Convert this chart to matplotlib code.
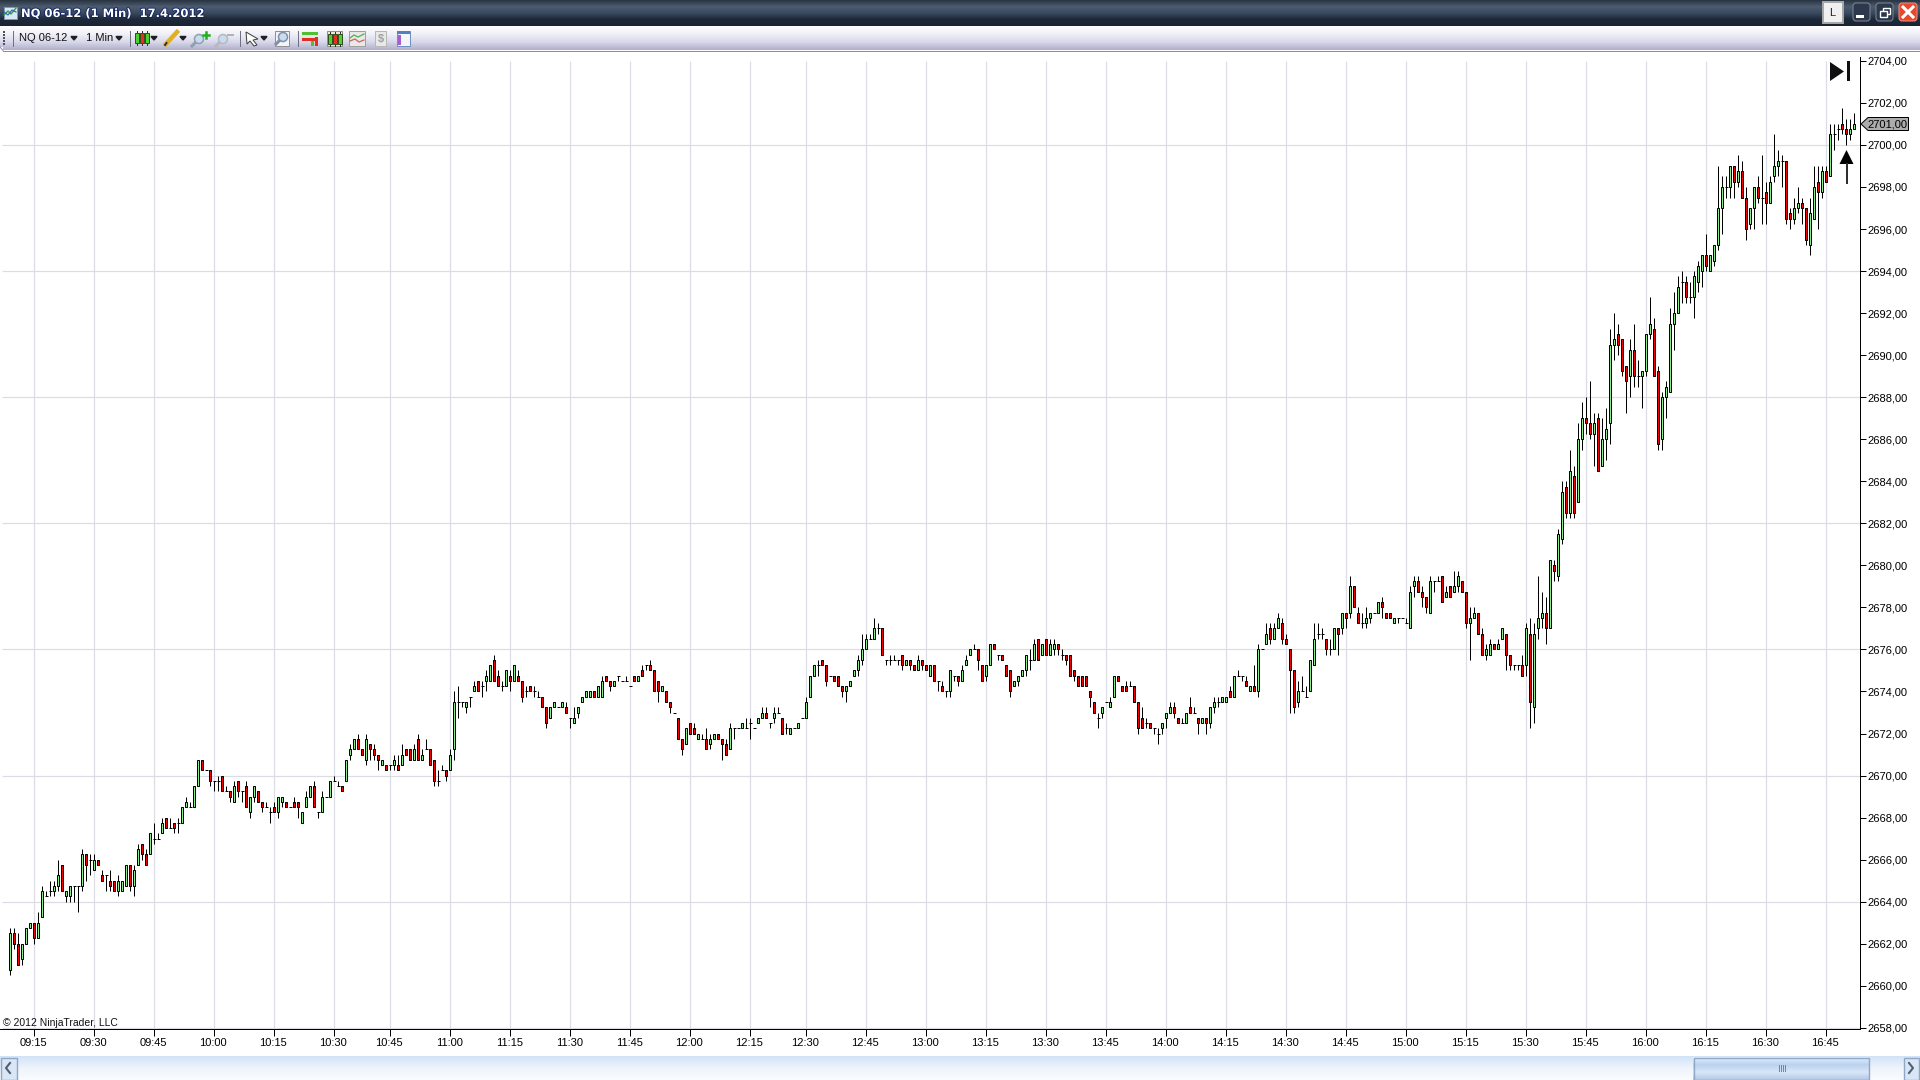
#!/usr/bin/env python3
# -*- coding: utf-8 -*-
"""NQ 06-12 1 minute candlestick chart, NinjaTrader window look"""

import numpy as np
import matplotlib
matplotlib.use("Agg")
import matplotlib.pyplot as plt
import matplotlib.patheffects as pe
from matplotlib.colors import LinearSegmentedColormap
from matplotlib.patches import Circle, FancyBboxPatch, Polygon, Rectangle
from matplotlib.transforms import ScaledTranslation

plt.rcParams['font.family'] = ['Liberation Sans', 'DejaVu Sans']

opens = [
    2660.75, 2662.5, 2662, 2661.25, 2662, 2662.75, 2663, 2662.25, 2663.25, 2664.25,
    2664.5, 2664.5, 2664.75, 2665.75, 2664.25, 2664.25, 2664.75, 2664.75, 2664.75, 2666.25,
    2666, 2665.5, 2666, 2665.25, 2665.25, 2665, 2665, 2664.5, 2664.5, 2664.75,
    2665.75, 2664.75, 2665.75, 2666.75, 2666.25, 2666.25, 2667, 2667, 2667.25, 2668,
    2667.5, 2667.75, 2667.75, 2667.75, 2668.5, 2668.5, 2668.5, 2669.5, 2670.75, 2670.25,
    2670.25, 2669.75, 2669.75, 2670, 2669.25, 2669.25, 2668.75, 2669.75, 2669.25, 2669.5,
    2668.25, 2669, 2669.25, 2668.75, 2668.5, 2668.25, 2668.5, 2668.25, 2668.75, 2668.75,
    2668.5, 2668.75, 2668.75, 2667.75, 2668.5, 2669, 2669.5, 2668.25, 2668.25, 2669,
    2669, 2669.75, 2669.5, 2669.5, 2669.75, 2671, 2671.25, 2671.75, 2671.25, 2670.75,
    2671.5, 2671.25, 2671, 2670.5, 2670.5, 2670.5, 2670.5, 2670.5, 2670.5, 2671.25,
    2671.25, 2670.75, 2671.75, 2670.75, 2671.25, 2671.25, 2670.75, 2669.75, 2670.25, 2670.25,
    2670.25, 2671.25, 2673.5, 2673.5, 2673.25, 2673.75, 2674, 2674.5, 2674.25, 2674.5,
    2674.5, 2675.5, 2674.75, 2674.25, 2674.25, 2674.75, 2674.5, 2674.75, 2674.5, 2674,
    2674.25, 2674, 2673.75, 2673.75, 2673.25, 2672.75, 2673.25, 2673.25, 2673.25, 2673.25,
    2672.75, 2672.5, 2673, 2673.5, 2673.75, 2673.75, 2674, 2673.75, 2673.75, 2674.75,
    2674.5, 2674.25, 2674.75, 2674.5, 2674.5, 2674.25, 2674.75, 2674.5, 2675, 2675.25,
    2675.25, 2675, 2674.5, 2674, 2674, 2673.5, 2673, 2672.75, 2671.75, 2671.5,
    2672.5, 2672.25, 2671.75, 2671.75, 2671.75, 2671.5, 2671.75, 2672, 2671.75, 2671.5,
    2671.25, 2672.25, 2672.25, 2672.25, 2672.25, 2672.5, 2672.25, 2672.5, 2672.75, 2673,
    2672.5, 2672.75, 2673, 2672.75, 2672.25, 2672, 2672.25, 2672.25, 2672.75, 2672.75,
    2673.75, 2674.75, 2675.25, 2675.5, 2675.25, 2674.75, 2674.75, 2674.75, 2674.25, 2674,
    2674.25, 2674.75, 2675, 2675.5, 2676, 2676.5, 2676.5, 2677, 2677, 2675.5,
    2675.5, 2675.5, 2675.5, 2675.75, 2675.25, 2675.5, 2675.25, 2675, 2675.5, 2675.25,
    2674.75, 2675.25, 2674.5, 2674.25, 2674, 2674, 2674.75, 2674.75, 2674.5, 2675.25,
    2675.75, 2676, 2676, 2675.25, 2674.75, 2675.25, 2676.25, 2675.75, 2675.75, 2675.25,
    2675, 2674.25, 2674.5, 2674.75, 2675, 2675.5, 2675.5, 2676.5, 2675.75, 2676.5,
    2675.75, 2676, 2676.25, 2675.75, 2675.75, 2675.75, 2675, 2674.75, 2674.75, 2674.75,
    2674, 2673.5, 2672.75, 2673, 2673.5, 2673.25, 2673.75, 2674.75, 2674.25, 2674.25,
    2674.25, 2674.25, 2673.5, 2672.75, 2672.5, 2672.5, 2672.25, 2672, 2672.25, 2672.75,
    2673, 2673.25, 2672.75, 2672.5, 2672.5, 2673.25, 2673, 2672.75, 2672.5, 2672.75,
    2672.5, 2673.25, 2673.5, 2673.5, 2673.5, 2674, 2673.75, 2674.75, 2674.75, 2674.5,
    2674, 2674.25, 2674, 2676, 2676.25, 2677, 2676.5, 2677, 2677.25, 2676.5,
    2676, 2675, 2673.5, 2674, 2673.75, 2674, 2675.25, 2676.75, 2676.75, 2676.5,
    2676, 2676, 2677, 2677, 2677.75, 2677.75, 2679, 2677.75, 2677.25, 2677.25,
    2677.5, 2677.75, 2677.75, 2678.25, 2677.75, 2677.75, 2677.25, 2677.5, 2677.5, 2677.25,
    2677, 2679, 2679.25, 2678.75, 2678.5, 2677.75, 2679.25, 2679.25, 2679.5, 2678.5,
    2679, 2678.75, 2679, 2679.25, 2678.75, 2677.25, 2677.5, 2677.75, 2676.75, 2675.75,
    2675.75, 2676.25, 2676, 2676.5, 2676.75, 2675.75, 2675.25, 2675.25, 2675.25, 2675.25,
    2676.75, 2673.25, 2677, 2677.5, 2677.75, 2677, 2680, 2679.5, 2681.25, 2683.75,
    2682.5, 2684.25, 2683, 2686, 2687, 2686.75, 2686.25, 2687, 2684.75, 2686,
    2686.75, 2690.5, 2691, 2690.75, 2689.5, 2689, 2690.25, 2689, 2689, 2689.25,
    2691, 2691.25, 2689.25, 2686, 2688, 2688.25, 2691.5, 2692, 2693.5, 2693.5,
    2692.75, 2692.75, 2693.5, 2694, 2694.75, 2694, 2694.5, 2695.25, 2697, 2698,
    2698, 2699, 2698.25, 2698.75, 2697.5, 2696.25, 2697, 2698, 2697.5, 2697.75,
    2697.25, 2698.5, 2699, 2699.25, 2699.25, 2696.75, 2696.5, 2697, 2697.25, 2697,
    2695.25, 2696.5, 2698.25, 2697.75, 2698.75, 2698.5, 2700.5, 2700.75, 2701, 2700.75,
    2700.5, 2700.75,
]

closes = [
    2662.5, 2662, 2661, 2662, 2662.75, 2663, 2662.25, 2663, 2664.5, 2664.25,
    2664.5, 2664.75, 2665.25, 2664.5, 2664.5, 2664.75, 2664.75, 2664.75, 2666.25, 2665.75,
    2666, 2666, 2665.75, 2665, 2665.25, 2664.75, 2664.5, 2665, 2665, 2665.75,
    2664.75, 2665.5, 2666.5, 2666.25, 2665.75, 2667.25, 2667, 2667, 2667.75, 2667.5,
    2667.5, 2667.5, 2667.75, 2668.5, 2668.75, 2668.5, 2669.5, 2670.75, 2670.25, 2670.25,
    2669.75, 2669.75, 2669.75, 2669.25, 2669.25, 2669, 2669.5, 2669.25, 2669.25, 2668.5,
    2669, 2669.5, 2668.75, 2668.5, 2668.5, 2668.25, 2668.25, 2669, 2669, 2668.5,
    2668.5, 2668.5, 2668.5, 2668.25, 2669, 2669.5, 2668.5, 2668.25, 2669, 2669,
    2669.75, 2669.75, 2669.5, 2669.25, 2670.75, 2671.25, 2671.75, 2671.25, 2671, 2671.75,
    2671.25, 2671, 2670.75, 2670.75, 2670.25, 2670.5, 2670.75, 2670.25, 2671, 2671,
    2670.75, 2671.25, 2670.75, 2671, 2671.25, 2670.5, 2669.75, 2669.75, 2670.25, 2670,
    2671, 2673.5, 2673.5, 2673.5, 2673.5, 2673.75, 2674.25, 2674, 2674.25, 2674.75,
    2675.25, 2674.5, 2674.25, 2674.25, 2675, 2674.5, 2675.25, 2674.5, 2673.75, 2674,
    2674, 2674, 2673.75, 2673.25, 2672.5, 2673.25, 2673.5, 2673.25, 2673.5, 2673,
    2672.75, 2672.75, 2673.25, 2673.75, 2674, 2674, 2673.75, 2674.25, 2674.5, 2674.5,
    2674.25, 2674.5, 2674.75, 2674.5, 2674.5, 2674.25, 2674.5, 2674.75, 2674.75, 2675.25,
    2675, 2674, 2674, 2674.25, 2673.5, 2673.25, 2673, 2671.75, 2671.25, 2672.25,
    2672, 2672, 2672, 2671.75, 2671.25, 2671.75, 2672, 2671.75, 2671.5, 2671,
    2672.25, 2672.25, 2672.25, 2672.5, 2672.25, 2672.5, 2672.25, 2672.75, 2673, 2672.75,
    2672.5, 2673, 2673, 2672, 2672.25, 2672.25, 2672.25, 2672.5, 2672.75, 2673.5,
    2674.75, 2675.25, 2675.25, 2675.25, 2674.5, 2674.75, 2674.5, 2674.25, 2674, 2674.25,
    2674.5, 2675, 2675.5, 2676, 2676.5, 2676.5, 2677, 2677, 2675.75, 2675.5,
    2675.5, 2675.5, 2675.5, 2675.25, 2675.5, 2675.25, 2675, 2675.5, 2675.25, 2675,
    2675.25, 2674.5, 2674.5, 2674, 2674, 2675, 2674.75, 2674.5, 2675, 2675.5,
    2676, 2676, 2675.5, 2674.5, 2675.25, 2676.25, 2676, 2675.75, 2675.5, 2674.75,
    2674, 2674.5, 2674.75, 2675, 2675.75, 2675.5, 2676.25, 2675.5, 2676.25, 2675.75,
    2676.25, 2676.25, 2676, 2675.75, 2675.5, 2674.75, 2674.75, 2674.25, 2674.25, 2674.25,
    2673.75, 2673, 2672.75, 2673.25, 2673.5, 2673.5, 2674.75, 2674.5, 2674, 2674,
    2674.25, 2673.5, 2672.25, 2672.25, 2672.5, 2672.25, 2672.25, 2672, 2672.5, 2673,
    2673.25, 2673, 2672.5, 2672.5, 2673, 2673, 2673, 2672.5, 2672.75, 2672.5,
    2673.25, 2673.5, 2673.5, 2673.75, 2673.75, 2673.75, 2674.75, 2674.75, 2674.75, 2674.25,
    2674.25, 2674, 2676, 2676, 2676.75, 2676.5, 2677, 2677.5, 2676.5, 2676.25,
    2675, 2673.25, 2674, 2674, 2673.75, 2675.5, 2676.5, 2676.75, 2676.75, 2676,
    2676, 2677, 2676.75, 2677.75, 2677.5, 2679, 2678, 2677.25, 2677.25, 2677.5,
    2677.75, 2677.75, 2678.25, 2678, 2677.5, 2677.5, 2677.5, 2677.5, 2677.5, 2677.25,
    2678.75, 2679.25, 2678.75, 2678.5, 2678, 2679.25, 2679.25, 2679.25, 2678.25, 2678.75,
    2678.5, 2679, 2679.5, 2678.75, 2677.25, 2677.5, 2677.75, 2676.75, 2675.75, 2676,
    2676.25, 2676, 2676.25, 2677, 2675.75, 2675.25, 2675.25, 2675.25, 2674.75, 2677,
    2673.5, 2676.75, 2677.5, 2677.75, 2677, 2680.25, 2679.75, 2681.5, 2683.5, 2682.5,
    2684.5, 2682.5, 2686, 2687, 2686.75, 2686.25, 2686.75, 2684.5, 2686, 2686.5,
    2690.5, 2690.75, 2690.5, 2689.25, 2688.75, 2690.25, 2689, 2689, 2689.25, 2691,
    2691.5, 2689, 2685.75, 2688, 2688.5, 2691.5, 2692, 2693.25, 2693.5, 2692.75,
    2692.75, 2693.75, 2694.25, 2694.75, 2694.25, 2694.75, 2695.25, 2697, 2698, 2698,
    2699, 2698.25, 2698.75, 2697.5, 2696, 2697, 2698, 2697.5, 2697.5, 2697.25,
    2698.25, 2699, 2699.25, 2699.25, 2696.5, 2696.5, 2697, 2697.25, 2697, 2695.5,
    2696.75, 2698, 2697.75, 2698.75, 2698.25, 2700.5, 2700.5, 2700.75, 2700.75, 2700.5,
    2700.75, 2701,
]

highs = [
    2662.75, 2662.75, 2662.5, 2662, 2662.75, 2663, 2663, 2663.5, 2664.75, 2664.5,
    2665, 2665, 2666, 2665.75, 2664.5, 2664.75, 2664.75, 2664.75, 2666.5, 2666.25,
    2666.25, 2666.25, 2666, 2665.5, 2665.25, 2665.5, 2665, 2665.25, 2665, 2665.75,
    2665.75, 2665.75, 2666.75, 2666.75, 2666.5, 2667.25, 2667.75, 2667.25, 2668, 2668,
    2668, 2667.75, 2668, 2668.5, 2669, 2668.75, 2669.5, 2670.75, 2670.75, 2670.25,
    2670.25, 2669.75, 2670, 2670, 2669.5, 2669.25, 2669.75, 2669.75, 2669.25, 2669.75,
    2669, 2669.5, 2669.25, 2668.75, 2668.75, 2668.5, 2668.75, 2669, 2669, 2668.75,
    2668.5, 2669, 2668.75, 2668.25, 2669.25, 2669.5, 2669.75, 2668.25, 2669.25, 2669,
    2669.75, 2670, 2669.75, 2669.5, 2670.75, 2671.5, 2671.75, 2672, 2671.25, 2672,
    2671.5, 2671.5, 2671, 2670.75, 2670.5, 2670.5, 2671, 2671, 2671.5, 2671.25,
    2671.25, 2671.5, 2672, 2671.25, 2671.75, 2671.25, 2670.75, 2670.25, 2670.5, 2670.25,
    2671.25, 2674, 2674.25, 2673.5, 2673.5, 2673.75, 2674.5, 2674.5, 2674.5, 2675,
    2675.25, 2675.75, 2675, 2674.5, 2675, 2675, 2675.25, 2675, 2674.5, 2674.25,
    2674.25, 2674.25, 2674, 2673.75, 2673.25, 2673.25, 2673.5, 2673.25, 2673.5, 2673.5,
    2672.75, 2673.25, 2673.25, 2673.75, 2674, 2674, 2674, 2674.25, 2674.75, 2674.75,
    2674.5, 2674.5, 2674.75, 2674.5, 2674.75, 2674.25, 2674.75, 2674.75, 2675.25, 2675.25,
    2675.5, 2675, 2674.5, 2674.25, 2674, 2673.5, 2673, 2672.75, 2671.75, 2672.25,
    2672.5, 2672.5, 2672, 2672, 2672.25, 2672, 2672, 2672, 2671.75, 2671.75,
    2672.5, 2672.25, 2672.25, 2672.5, 2672.75, 2672.75, 2672.25, 2672.75, 2673.25, 2673.25,
    2672.5, 2673.25, 2673.25, 2672.75, 2672.5, 2672.25, 2672.25, 2672.5, 2672.75, 2673.75,
    2674.75, 2675.25, 2675.5, 2675.5, 2675.25, 2674.75, 2674.75, 2674.75, 2674.25, 2674.25,
    2674.5, 2675, 2675.75, 2676.75, 2676.75, 2676.75, 2677.5, 2677.25, 2677, 2675.5,
    2675.75, 2675.75, 2675.5, 2675.75, 2675.5, 2675.5, 2675.25, 2675.75, 2675.5, 2675.25,
    2675.25, 2675.25, 2674.5, 2674.5, 2674, 2675, 2674.75, 2674.75, 2675.25, 2675.75,
    2676, 2676.25, 2676, 2675.25, 2675.25, 2676.25, 2676.25, 2675.75, 2675.75, 2675.25,
    2675, 2674.5, 2674.75, 2675, 2675.75, 2676, 2676.5, 2676.5, 2676.25, 2676.5,
    2676.5, 2676.5, 2676.25, 2676, 2675.75, 2675.75, 2675, 2674.75, 2674.75, 2674.75,
    2674, 2673.5, 2673, 2673.25, 2673.5, 2673.75, 2674.75, 2674.75, 2674.25, 2674.5,
    2674.5, 2674.25, 2673.5, 2673.25, 2672.75, 2672.5, 2672.25, 2672.25, 2672.5, 2673,
    2673.5, 2673.5, 2672.75, 2672.75, 2673, 2673.75, 2673.25, 2672.75, 2672.75, 2672.75,
    2673.25, 2673.75, 2673.75, 2673.75, 2673.75, 2674.25, 2674.75, 2675, 2674.75, 2674.75,
    2674.25, 2675.25, 2676.25, 2676, 2677.25, 2677.25, 2677.25, 2677.75, 2677.5, 2676.75,
    2676, 2675, 2674.5, 2674.75, 2674.25, 2675.5, 2677.25, 2677.25, 2677, 2676.5,
    2676.5, 2677, 2677, 2677.75, 2677.75, 2679.5, 2679, 2678, 2677.75, 2678,
    2677.75, 2677.75, 2678.25, 2678.5, 2677.75, 2677.75, 2677.5, 2677.5, 2677.5, 2677.5,
    2679, 2679.5, 2679.5, 2679, 2678.5, 2679.5, 2679.25, 2679.5, 2679.5, 2679,
    2679, 2679.75, 2679.75, 2679.25, 2678.75, 2678, 2678, 2677.75, 2677, 2676.25,
    2676.5, 2676.25, 2676.5, 2677, 2676.75, 2675.75, 2675.25, 2675.25, 2675.75, 2677.25,
    2677.5, 2677.25, 2679.5, 2678.75, 2678.5, 2680.25, 2680.25, 2681.75, 2684, 2684,
    2685.5, 2684.75, 2686.75, 2687.75, 2688, 2688.75, 2687.25, 2687.25, 2687, 2687.5,
    2691.25, 2692, 2691.5, 2690.75, 2689.5, 2690.75, 2691.5, 2689.75, 2689.25, 2691,
    2692.75, 2691.75, 2689.5, 2688.25, 2688.75, 2692.25, 2693, 2693.75, 2694, 2693.75,
    2693.5, 2694, 2694.5, 2694.75, 2695.75, 2694.75, 2695.25, 2699, 2698.5, 2698.5,
    2699, 2699, 2699.5, 2699.25, 2698, 2697, 2698, 2698.5, 2699.5, 2698.25,
    2698.5, 2700.5, 2699.75, 2699.5, 2699.25, 2697, 2697.5, 2698, 2697.5, 2697,
    2697.5, 2699, 2699, 2699, 2699, 2701, 2701, 2701, 2701.75, 2701.25,
    2701.25, 2701.5,
]

lows = [
    2660.5, 2661.75, 2661, 2661, 2662, 2662.75, 2662, 2662.25, 2663.25, 2664.25,
    2664.25, 2664.25, 2664.5, 2664.5, 2664, 2664, 2664, 2663.5, 2664.5, 2665,
    2665.25, 2665.5, 2665.75, 2665, 2664.5, 2664.5, 2664.5, 2664.25, 2664.5, 2664.75,
    2664.5, 2664.25, 2665.75, 2666, 2665.75, 2666.25, 2666.75, 2667, 2667.25, 2667.5,
    2667.5, 2667.25, 2667.25, 2667.75, 2668.5, 2668.5, 2668.5, 2669.5, 2670.25, 2670.25,
    2669.5, 2669.25, 2669.25, 2669.25, 2669.25, 2668.75, 2668.75, 2669, 2668.75, 2668.5,
    2668, 2668.75, 2668.75, 2668.25, 2668.5, 2667.75, 2668.25, 2668, 2668.5, 2668.5,
    2668.5, 2668.5, 2668, 2667.75, 2668.5, 2669, 2668.5, 2668, 2668.25, 2669,
    2669, 2669.75, 2669.5, 2669.25, 2669.75, 2670.75, 2671.25, 2671.25, 2671, 2670.5,
    2670.75, 2670.75, 2670.25, 2670.5, 2670.25, 2670.25, 2670.25, 2670.25, 2670.5, 2671,
    2670.75, 2670.75, 2670.75, 2670.75, 2671.25, 2670.5, 2669.5, 2669.5, 2670.25, 2669.75,
    2670.25, 2670.75, 2672.75, 2673.25, 2673, 2673.25, 2674, 2674, 2673.75, 2674,
    2674.5, 2674.5, 2674.25, 2674, 2674.25, 2674, 2674.5, 2674.5, 2673.5, 2673.75,
    2674, 2673.75, 2673.75, 2673.25, 2672.25, 2672.75, 2673.25, 2673.25, 2673.25, 2673,
    2672.25, 2672.5, 2672.75, 2673.5, 2673.75, 2673.75, 2673.75, 2673.75, 2673.75, 2674.5,
    2674, 2674.25, 2674.5, 2674.5, 2674.5, 2674.25, 2674.5, 2674.5, 2674.75, 2675,
    2675, 2674, 2673.5, 2674, 2673.5, 2673, 2673, 2671.75, 2671, 2671.5,
    2672, 2672, 2671.75, 2671.75, 2671.25, 2671.25, 2671.75, 2671.75, 2670.75, 2671,
    2671.25, 2671.75, 2672.25, 2672.25, 2672.25, 2671.75, 2672.25, 2672.5, 2672.75, 2672.75,
    2672.25, 2672.5, 2673, 2672, 2672, 2672, 2672.25, 2672.25, 2672.75, 2672.75,
    2673.75, 2674.75, 2674.75, 2675.25, 2674.25, 2674.75, 2674.5, 2674.25, 2673.75, 2673.5,
    2674.25, 2674.75, 2674.75, 2675.25, 2676, 2676.5, 2676.5, 2676.75, 2675.75, 2675.25,
    2675.25, 2675.5, 2675.25, 2675, 2675.25, 2675, 2675, 2675, 2675, 2675,
    2674.75, 2674.5, 2674, 2674, 2673.75, 2673.75, 2674.5, 2674.25, 2674.5, 2675.25,
    2675.75, 2676, 2675, 2674.5, 2674.5, 2675.25, 2676, 2675.5, 2675.5, 2674.75,
    2673.75, 2674.25, 2674.25, 2674.75, 2674.75, 2675, 2675.5, 2675.5, 2675.75, 2675.75,
    2675.75, 2675.75, 2675.75, 2675.5, 2675.25, 2674.75, 2674.5, 2674.25, 2674.25, 2674.25,
    2673.25, 2673, 2672.25, 2672.75, 2673.5, 2673.25, 2673.75, 2674.5, 2674, 2674,
    2674.25, 2673.5, 2672, 2672.25, 2672.25, 2672.25, 2672, 2671.5, 2672, 2672.25,
    2673, 2672.75, 2672.5, 2672.5, 2672.5, 2673, 2673, 2672, 2672.5, 2672,
    2672.25, 2673, 2673.25, 2673.5, 2673.5, 2673.75, 2673.75, 2674.75, 2674.5, 2674.25,
    2674, 2674, 2673.75, 2676, 2676.25, 2676.25, 2676.5, 2677, 2676.25, 2676.25,
    2673, 2673, 2673.25, 2674, 2673.75, 2674, 2675.25, 2676.5, 2676.5, 2675.75,
    2675.75, 2676, 2675.75, 2676.75, 2677, 2677.5, 2678, 2677.25, 2677, 2677,
    2677.25, 2677.75, 2677.75, 2677.5, 2677.5, 2677.5, 2677.25, 2677.25, 2677.5, 2677.25,
    2677, 2678.5, 2678.75, 2678, 2677.75, 2677.75, 2678.75, 2679.25, 2678.25, 2678.5,
    2678.5, 2678.75, 2678.75, 2678.75, 2677, 2675.5, 2677.5, 2676.75, 2675.75, 2675.5,
    2675.75, 2676, 2676, 2676.5, 2675, 2675, 2675, 2675, 2674.75, 2674.75,
    2672.25, 2672.5, 2676.5, 2677, 2676.25, 2677, 2679.25, 2679.25, 2681, 2682.25,
    2682.25, 2682.25, 2683, 2685.5, 2686.25, 2686, 2684.75, 2684.5, 2684.75, 2685,
    2685.75, 2689.75, 2690, 2689, 2687.25, 2688, 2688.5, 2688.5, 2687.5, 2689,
    2690.75, 2689, 2685.5, 2685.5, 2687, 2688.25, 2690.25, 2692, 2692.5, 2692.5,
    2692.5, 2691.75, 2693, 2693.25, 2694, 2694, 2694.25, 2695, 2695.75, 2697.5,
    2697.5, 2697.5, 2698, 2697.5, 2695.5, 2696, 2696, 2697.25, 2696.25, 2696.25,
    2697.25, 2698.25, 2698.5, 2698, 2696.25, 2696, 2696.25, 2696.75, 2696.25, 2695.25,
    2694.75, 2696.5, 2696, 2697.5, 2698.25, 2698.5, 2699.75, 2700.25, 2700.5, 2700,
    2700.25, 2700.75,
]

# bar number of each time label, two minutes have no bar
time_positions = [6, 21, 36, 51, 66, 81, 95, 110, 125, 140, 155, 170, 185, 199, 214, 229,
                  244, 259, 274, 289, 304, 319, 334, 349, 364, 379, 394, 409, 424, 439, 454]
time_labels = ['09:15', '09:30', '09:45', '10:00', '10:15', '10:30', '10:45', '11:00',
               '11:15', '11:30', '11:45', '12:00', '12:15', '12:30', '12:45', '13:00',
               '13:15', '13:30', '13:45', '14:00', '14:15', '14:30', '14:45', '15:00',
               '15:15', '15:30', '15:45', '16:00', '16:15', '16:30', '16:45']
price_ticks = list(range(2658, 2706, 2))
price_grid = [2658, 2664, 2670, 2676, 2682, 2688, 2694, 2700]
last_price = 2701.0

W, H = 1920, 1080
PX = 0.72  # one pixel in points at dpi 100
UP = '#88F088'
DOWN = '#F50000'
GRID = '#DCDCE4'


def gradient(ax, x0, x1, y0, y1, colors):
    """vertical colour gradient in pixel coordinates"""
    cmap = LinearSegmentedColormap.from_list('g', colors)
    ax.imshow(np.linspace(0, 1, 64)[:, None], extent=(x0, x1, y1, y0), cmap=cmap,
              aspect='auto', interpolation='bilinear', zorder=1)


def dropdown(ax, x, y=38):
    ax.add_patch(Polygon([(x - 3, y - 1.5), (x + 3, y - 1.5), (x, y + 2)], color='#202020', zorder=4))


def candle_icon(ax, x, y):
    for dx, col in zip((0, 5, 10), ('#50D030', '#E83020', '#50D030')):
        ax.plot([x + dx + 2, x + dx + 2], [y, y + 14], color='#303030', lw=PX, zorder=3)
        ax.add_patch(Rectangle((x + dx, y + 2), 4, 10, fc=col, ec='#305020', lw=PX, zorder=4))


def magnifier(ax, x, y, col):
    ax.plot([x - 7, x - 2], [y + 7, y + 2], color=col, lw=2.2, zorder=3)
    ax.add_patch(Circle((x, y), 4.5, fc='#C8DCF0', ec=col, lw=1.1, zorder=4))


fig = plt.figure(figsize=(W / 100, H / 100), dpi=100, facecolor='white')

# --- chart area ---
ax = fig.add_axes([0, 1 - 1029.3 / H, 1859.5 / W, (1029.3 - 57) / H])
ax.set_xlim(-10.3 / 4, (1859.5 - 10.3) / 4)
ax.set_ylim(2658 - 1.5 / 21.02, 2658 + (1027.8 - 57) / 21.02)

bars = np.arange(len(opens))
o = np.array(opens)
h = np.array(highs)
l = np.array(lows)
c = np.array(closes)

ax.vlines(time_positions, 2658, 2704.0, color=GRID, lw=PX * 1.2, zorder=1)
ax.hlines(price_grid, -2.1, 462.3, color=GRID, lw=PX * 1.2, zorder=1)

ax.vlines(bars, l, h, color='black', lw=PX, zorder=3)

up = c > o
down = c < o
flat = c == o
ax.bar(bars[up], (c - o)[up], bottom=o[up], width=0.5, color=UP, edgecolor='black', linewidth=PX, zorder=4)
ax.bar(bars[down], (o - c)[down], bottom=c[down], width=0.5, color=DOWN, edgecolor='black', linewidth=PX, zorder=4)
ax.hlines(c[flat], bars[flat] - 0.3, bars[flat] + 0.3, color='black', lw=PX, zorder=4)

ax.set_xticks(time_positions)
ax.set_xticklabels(time_labels)
ax.set_yticks(price_ticks)
ax.set_yticklabels([f'{p:.2f}'.replace('.', ',') for p in price_ticks])
ax.yaxis.tick_right()
ax.tick_params(axis='x', length=5, width=PX, pad=1.2, labelsize=8)
ax.tick_params(axis='y', length=4.5, width=PX, pad=1, labelsize=8)
for name in ('top', 'left'):
    ax.spines[name].set_visible(False)
for name in ('right', 'bottom'):
    ax.spines[name].set_linewidth(PX)

# time labels sit a pixel left of their tick
shift = ScaledTranslation(-1 / 100, 0, fig.dpi_scale_trans)
for label in ax.get_xticklabels():
    label.set_transform(label.get_transform() + shift)

# --- window chrome, pixel coordinates ---
ov = fig.add_axes([0, 0, 1, 1], facecolor='none')
ov.set_axis_off()

gradient(ov, 0, W, 0, 26, ['#2A3442', '#4D5C70', '#3A4A5E', '#1D2839', '#1A2434'])
gradient(ov, 0, W, 26, 50, ['#FFFFFF', '#F0F0F8', '#D8D8EA', '#B0B0CC'])
ov.plot([0, W], [50.5, 50.5], color='#8A8AA0', lw=PX, zorder=2)
ov.add_patch(Rectangle((0, 47), 3, 5, fc='white', ec='none', zorder=2))
ov.plot([0, 3], [47, 50.5], color='#8A8AA0', lw=PX, zorder=3)

# title bar
ov.add_patch(Rectangle((3.5, 6.5), 13, 12, fc='#D8E8F4', ec='#8098B0', lw=PX, zorder=3))
ov.plot([4, 8, 11, 16], [15, 11, 14, 8], color='#30A040', lw=1.0, zorder=4)
ov.plot([4, 8, 12, 16], [12, 15, 10, 12], color='#3060C0', lw=0.8, zorder=4)
ov.text(21, 13.5, 'NQ 06-12 (1 Min)  17.4.2012', color='white', fontsize=8.3, fontweight='bold',
        family=['DejaVu Sans'], va='center', ha='left', zorder=5,
        path_effects=[pe.withStroke(linewidth=1.2, foreground='#102060')])

# window buttons
ov.add_patch(Rectangle((1822.5, 1.5), 20, 21, fc='#F0F0F0', ec='#A8A8A8', lw=1.4, zorder=3))
ov.text(1832.5, 13, 'L', color='#202020', fontsize=8, ha='center', va='center', zorder=4)
ov.add_patch(FancyBboxPatch((1853, 3), 17, 18, boxstyle='round,pad=0,rounding_size=3',
                            fc='#2C394C', ec='#7D8795', lw=PX, zorder=3))
ov.add_patch(Rectangle((1856, 15), 8, 3, fc='white', ec='none', zorder=4))
ov.add_patch(FancyBboxPatch((1876, 3), 17, 18, boxstyle='round,pad=0,rounding_size=3',
                            fc='#2C394C', ec='#7D8795', lw=PX, zorder=3))
ov.add_patch(Rectangle((1883, 8), 7, 6, fc='none', ec='white', lw=1.0, zorder=4))
ov.add_patch(Rectangle((1880, 11), 7, 6, fc='#2C394C', ec='white', lw=1.0, zorder=5))
ov.add_patch(FancyBboxPatch((1899, 3), 18, 18, boxstyle='round,pad=0,rounding_size=3',
                            fc='#E8482C', ec='#F09078', lw=PX, zorder=3))
ov.plot([1903, 1913], [7, 17], color='white', lw=2.2, zorder=4)
ov.plot([1903, 1913], [17, 7], color='white', lw=2.2, zorder=4)

# toolbar
for y in range(31, 45, 3):
    ov.add_patch(Rectangle((3, y), 2, 2, fc='#505060', ec='none', zorder=3))
for x in (13, 130, 240, 298):
    ov.plot([x, x], [31, 46], color='#707080', lw=PX, zorder=3)
ov.text(19, 38, 'NQ 06-12', fontsize=8, color='#101010', va='center', zorder=4)
ov.text(86, 38, '1 Min', fontsize=8, color='#101010', va='center', zorder=4)
for x in (74, 119, 154, 183, 264):
    dropdown(ov, x)
candle_icon(ov, 135, 31)
ov.plot([166, 177], [44, 32], color='#E0B020', lw=3.2, zorder=3)
ov.plot([165, 166.5], [45, 43], color='#303030', lw=1.4, zorder=4)
magnifier(ov, 199, 39, '#90A0B0')
ov.plot([203, 209], [35, 35], color='#20B020', lw=1.8, zorder=5)
ov.plot([206, 206], [32, 38], color='#20B020', lw=1.8, zorder=5)
magnifier(ov, 223, 39, '#B8B8C0')
ov.plot([228, 233], [35, 35], color='#B0B0B8', lw=1.4, zorder=5)
ov.add_patch(Polygon([(246, 32), (258, 39), (253, 40), (257, 45), (254, 46), (250, 41), (247, 44)],
                     fc='white', ec='#404040', lw=PX, zorder=4))
ov.add_patch(Rectangle((275, 31), 14, 15, fc='#F4F4F8', ec='#909098', lw=PX, zorder=3))
magnifier(ov, 283, 37, '#8090A8')
ov.plot([303, 316], [33, 33], color='#50C030', lw=2.2, zorder=4)
ov.plot([303, 316], [39, 39], color='#E03020', lw=2.2, zorder=4)
ov.add_patch(Rectangle((315, 37), 3, 9, fc='#E03020', ec='none', zorder=4))
ov.add_patch(Rectangle((311, 41), 3, 5, fc='#50C030', ec='none', zorder=4))
ov.add_patch(Rectangle((327, 31), 15, 15, fc='#EEE8D8', ec='#909090', lw=PX, zorder=3))
candle_icon(ov, 328, 32)
ov.add_patch(Rectangle((349, 31), 16, 15, fc='#E8E8E8', ec='#A0A0A0', lw=PX, zorder=3))
ov.plot([350, 354, 358, 364], [38, 35, 37, 34], color='#50B050', lw=0.9, zorder=4)
ov.plot([350, 355, 359, 364], [41, 39, 42, 40], color='#D06060', lw=0.9, zorder=4)
ov.add_patch(Rectangle((375, 31), 11, 15, fc='#E8E8E8', ec='#B8B8B8', lw=PX, zorder=3))
ov.text(380.5, 39, '$', fontsize=8, fontweight='bold', color='#A0A0A0', ha='center', va='center', zorder=4)
ov.add_patch(Rectangle((397, 31), 13, 15, fc='#F4F4FC', ec='#7090C0', lw=PX, zorder=3))
ov.add_patch(Rectangle((397, 31), 13, 3, fc='#5080C0', ec='none', zorder=4))
ov.add_patch(Rectangle((398, 35), 3, 10, fc='#A060D0', ec='none', zorder=4))

# go to last bar button, arrow, last price marker
ov.add_patch(Polygon([(1830, 62), (1844, 71.5), (1830, 81)], fc='#101010', ec='none', zorder=5))
ov.add_patch(Rectangle((1847, 61), 2.6, 20, fc='#101010', ec='none', zorder=5))
ov.add_patch(Polygon([(1846.5, 150), (1853.5, 164), (1839.5, 164)], fc='black', ec='none', zorder=5))
ov.add_patch(Rectangle((1845.5, 163), 2, 21, fc='#303030', ec='none', zorder=5))
ov.add_patch(Polygon([(1861, 124), (1868, 117.5), (1908.5, 117.5), (1908.5, 130.5), (1868, 130.5)],
                     fc='#ACACAC', ec='black', lw=PX, zorder=5))
ov.text(1887.5, 124.5, f'{last_price:.2f}'.replace('.', ','), fontsize=8, color='black',
        ha='center', va='center', zorder=6)

ov.text(3, 1023.5, '© 2012 NinjaTrader, LLC', fontsize=7.5, color='#101010', va='center', zorder=6)

# scroll bar
gradient(ov, 0, W, 1056, 1080, ['#D2E3F8', '#EEF4FC', '#FAFCFF'])
ov.add_patch(Rectangle((0.5, 1057.5), 16, 22, fc='#D8E6F6', ec='#90A8C8', lw=1.0, zorder=3))
ov.add_patch(Rectangle((1903.5, 1057.5), 15.5, 22, fc='#D8E6F6', ec='#90A8C8', lw=1.0, zorder=3))
ov.plot([10, 6, 10], [1063, 1068, 1073], color='#506070', lw=1.5, zorder=4)
ov.plot([1909, 1913, 1909], [1063, 1068, 1073], color='#506070', lw=1.5, zorder=4)
gradient(ov, 1693, 1869, 1057, 1080, ['#E4EEFA', '#BAD2F0', '#D8E6F8', '#B4C8E4'])
ov.add_patch(Rectangle((1693.5, 1057.5), 175.5, 22, fc='none', ec='#90A8C8', lw=1.0, zorder=3))
for x in range(1778, 1785, 2):
    ov.plot([x + 0.5, x + 0.5], [1065, 1071], color='#7088A8', lw=PX, zorder=4)

ov.set_xlim(0, W)
ov.set_ylim(H, 0)

fig.savefig('out.png', dpi=100)
plt.close(fig)
